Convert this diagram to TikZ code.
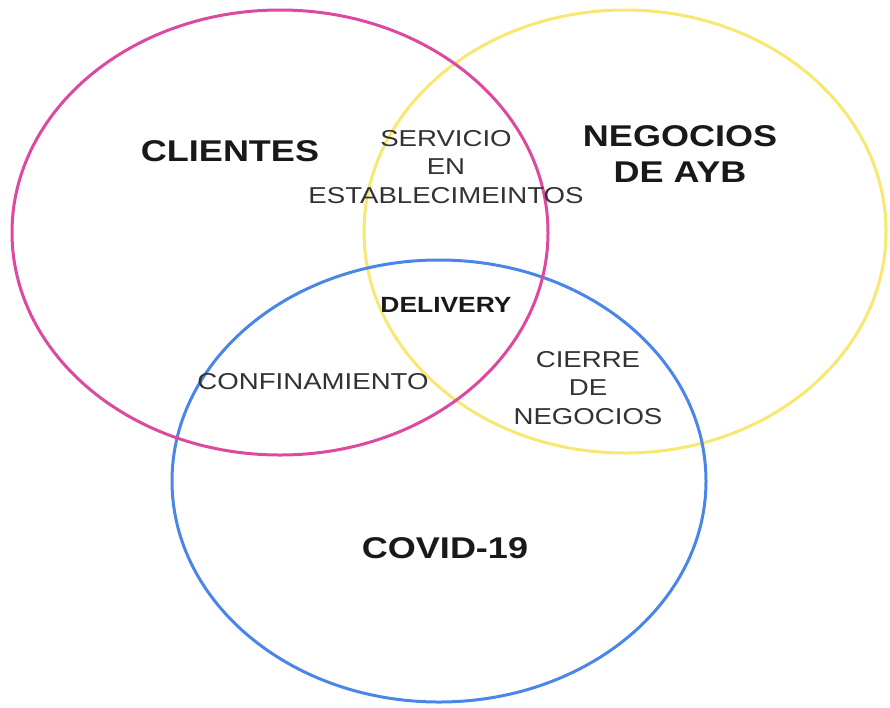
\documentclass[tikz,border=0pt]{standalone}
\usepackage{fontspec}
\setmainfont{Liberation Sans}
% labels are set a little wider than the regular face
\newfontfamily\widefont[FakeStretch=1.2]{Liberation Sans}
\definecolor{setpink}{RGB}{221,72,160}
\definecolor{setyellow}{RGB}{246,232,112}
\definecolor{setblue}{RGB}{74,134,232}
\definecolor{labelgray}{RGB}{50,50,50}
\begin{document}
\begin{tikzpicture}[x=1pt,y=-1pt,
  setline/.style={line width=3pt},
  title/.style={font=\widefont\bfseries\fontsize{30}{36}\selectfont, text=black!90, align=center, inner sep=0pt},
  overlap/.style={font=\widefont\fontsize{23}{28.5}\selectfont, text=labelgray, align=center, inner sep=0pt},
  core/.style={font=\widefont\bfseries\fontsize{22}{26}\selectfont, text=black!90, inner sep=0pt}]
  \useasboundingbox (0,0) rectangle (890,707);
  % the three sets
  \draw[setline, setyellow] (625,231.5) ellipse [x radius=261, y radius=221.5];
  \draw[setline, setblue] (439,481) ellipse [x radius=267, y radius=221];
  \draw[setline, setpink] (280,232.5) ellipse [x radius=268, y radius=222.5];
  % set names
  \node[title] (clientes) at (230,151) {CLIENTES};
  \node[title] (negocios) at (680,154) {NEGOCIOS\\DE AYB};
  \node[title] (covid) at (445,548) {COVID-19};
  % overlaps
  \node[overlap] (servicio) at (446,167) {SERVICIO\\EN\\ESTABLECIMEINTOS};
  \node[overlap] (confin) at (313,382) {CONFINAMIENTO};
  \node[overlap] (cierre) at (588,388) {CIERRE\\DE\\NEGOCIOS};
  \node[core] (delivery) at (446,305) {DELIVERY};
\end{tikzpicture}
\end{document}
